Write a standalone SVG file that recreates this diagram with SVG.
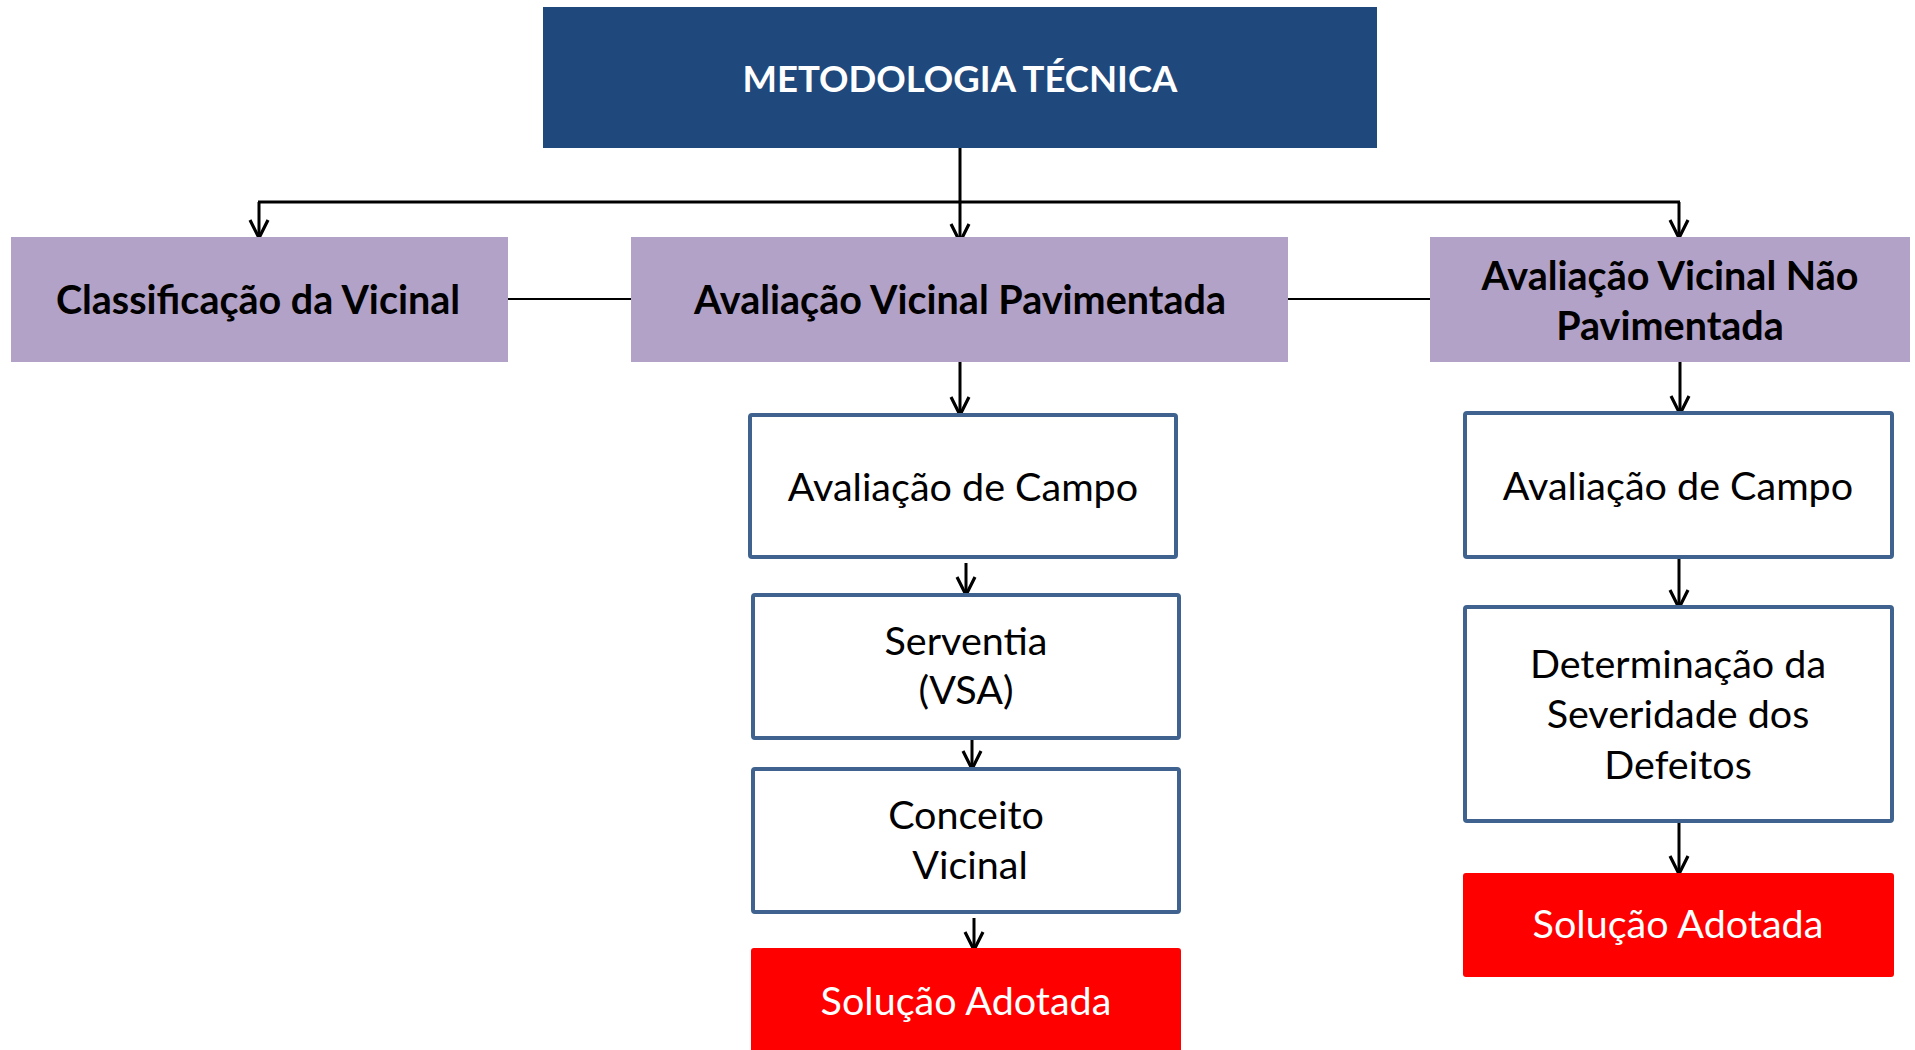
<svg xmlns="http://www.w3.org/2000/svg" width="1915" height="1050" viewBox="0 0 1915 1050">
  <defs>
    <marker id="arr" markerUnits="userSpaceOnUse" markerWidth="24" markerHeight="24" viewBox="0 0 24 24" refX="21" refY="12" orient="auto">
      <path d="M3,3 L21,12 L3,21" fill="none" stroke="#000" stroke-width="3.2"/>
    </marker>
    <style>
      .top { fill: #1F497D; }
      .purple { fill: #B2A2C7; }
      .step { fill: #FFFFFF; stroke: #3F628E; stroke-width: 4; }
      .result { fill: #FF0000; }
      .bold { font-family: Lato, "Liberation Sans", sans-serif; font-weight: bold; text-anchor: middle; fill: #000; }
      .title { font-family: Lato, "Liberation Sans", sans-serif; font-weight: bold; text-anchor: middle; fill: #FFFFFF; font-size: 36.5px; }
      .reg { font-family: Lato, "Liberation Sans", sans-serif; text-anchor: middle; fill: #000; font-size: 39.5px; }
      .white { fill: #FFFFFF; }
      .conn { stroke: #000; stroke-width: 3; fill: none; }
      .thin { stroke: #000; stroke-width: 2; fill: none; }
    </style>
  </defs>

  <g id="connectors">
    <line class="conn" x1="960" y1="148" x2="960" y2="242" marker-end="url(#arr)"/>
    <line class="conn" x1="258" y1="202" x2="1680" y2="202" stroke-width="4"/>
    <line class="conn" x1="259" y1="202" x2="259" y2="238" marker-end="url(#arr)"/>
    <line class="conn" x1="1679" y1="202" x2="1679" y2="238" marker-end="url(#arr)"/>
    <line class="thin" x1="508" y1="299" x2="631" y2="299"/>
    <line class="thin" x1="1288" y1="299" x2="1430" y2="299"/>
    <line class="conn" x1="960" y1="362" x2="960" y2="415" marker-end="url(#arr)"/>
    <line class="conn" x1="966" y1="563" x2="966" y2="595" marker-end="url(#arr)"/>
    <line class="conn" x1="972" y1="740" x2="972" y2="769" marker-end="url(#arr)"/>
    <line class="conn" x1="974" y1="918" x2="974" y2="950" marker-end="url(#arr)"/>
    <line class="conn" x1="1680" y1="362" x2="1680" y2="414" marker-end="url(#arr)"/>
    <line class="conn" x1="1679" y1="557" x2="1679" y2="608" marker-end="url(#arr)"/>
    <line class="conn" x1="1679" y1="821" x2="1679" y2="874" marker-end="url(#arr)"/>
  </g>

  <g id="metodologia">
    <rect class="top" x="543" y="7" width="834" height="141"/>
    <text class="title" x="960" y="92">METODOLOGIA TÉCNICA</text>
  </g>

  <g id="classificacao">
    <rect class="purple" x="11" y="237" width="497" height="125"/>
    <text class="bold" x="258" y="314" font-size="39.5">Classificação da Vicinal</text>
  </g>

  <g id="pavimentada">
    <rect class="purple" x="631" y="237" width="657" height="125"/>
    <text class="bold" x="960" y="314" font-size="39.5">Avaliação Vicinal Pavimentada</text>
  </g>

  <g id="nao-pavimentada">
    <rect class="purple" x="1430" y="237" width="480" height="125"/>
    <text class="bold" x="1670" y="290" font-size="39.5">Avaliação Vicinal Não</text>
    <text class="bold" x="1670" y="340" font-size="39.5">Pavimentada</text>
  </g>

  <g id="campo-pav">
    <rect class="step" x="750" y="415" width="426" height="142" rx="2"/>
    <text class="reg" x="963" y="501">Avaliação de Campo</text>
  </g>

  <g id="serventia">
    <rect class="step" x="753" y="595" width="426" height="143" rx="2"/>
    <text class="reg" x="966" y="655">Serventia</text>
    <text class="reg" x="966" y="704">(VSA)</text>
  </g>

  <g id="conceito">
    <rect class="step" x="753" y="769" width="426" height="143" rx="2"/>
    <text class="reg" x="966" y="829">Conceito</text>
    <text class="reg" x="970" y="879">Vicinal</text>
  </g>

  <g id="solucao-pav">
    <rect class="result" x="751" y="948" width="430" height="120" rx="3"/>
    <text class="reg white" x="966" y="1015">Solução Adotada</text>
  </g>

  <g id="campo-nao-pav">
    <rect class="step" x="1465" y="413" width="427" height="144" rx="2"/>
    <text class="reg" x="1678" y="500">Avaliação de Campo</text>
  </g>

  <g id="severidade">
    <rect class="step" x="1465" y="607" width="427" height="214" rx="2"/>
    <text class="reg" x="1678" y="678">Determinação da</text>
    <text class="reg" x="1678" y="728">Severidade dos</text>
    <text class="reg" x="1678" y="779">Defeitos</text>
  </g>

  <g id="solucao-nao-pav">
    <rect class="result" x="1463" y="873" width="431" height="104" rx="3"/>
    <text class="reg white" x="1678" y="938">Solução Adotada</text>
  </g>
</svg>
